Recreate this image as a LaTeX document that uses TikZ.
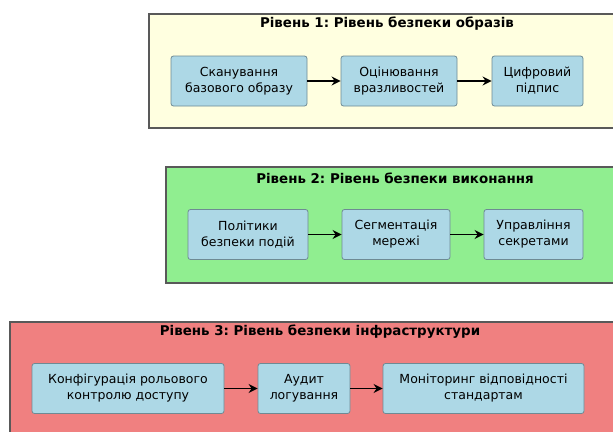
\documentclass[tikz,border=0pt]{standalone}
\usepackage{fontspec}
\setmainfont{DejaVu Sans}
\usetikzlibrary{arrows.meta}
\frenchspacing
\definecolor{imagefill}{HTML}{FFFFE0}
\definecolor{runfill}{HTML}{90EE90}
\definecolor{infrafill}{HTML}{F08080}
\definecolor{stepfill}{HTML}{ADD8E6}
\definecolor{stepline}{HTML}{6E8A94}
\tikzset{
  stepbox/.style={draw=stepline, fill=stepfill, rounded corners=2.5pt, align=center,
    minimum height=50pt, inner sep=0pt, line width=0.8pt,
    font=\fontsize{12.5}{16}\selectfont},
  layer/.style={draw=black!65, line width=1.1pt},
  layertitle/.style={inner sep=0pt, font=\bfseries\fontsize{13.4}{16}\selectfont},
  flow/.style={-{Stealth[length=9pt,width=9pt,inset=3pt]}, line width=1.5pt}
}
\begin{document}
\begin{tikzpicture}[x=1pt,y=-1pt]
        \def\ya{81}
        \def\yb{234.5}
        \def\yc{388.5}
        \useasboundingbox (0,0) rectangle (613,431);
        % layer 1
        \draw[layer,fill=imagefill] (149,14) rectangle (625,128);
        \node[layertitle] (t1) at (387,23.5) {Рівень 1: Рівень безпеки образів};
        \node[stepbox,minimum width=136pt] (scan) at (239,\ya) {Сканування\\базового образу};
        \node[stepbox,minimum width=116pt] (vuln) at (399,\ya) {Оцінювання\\вразливостей};
        \node[stepbox,minimum width=91pt] (sign) at (537.5,\ya) {Цифровий\\підпис};
        \draw[flow] (scan) -- (vuln);
        \draw[flow] (vuln) -- (sign);
        % layer 2
        \draw[layer,fill=runfill] (166,167) rectangle (624,283);
        \node[layertitle] (t2) at (395,178.5) {Рівень 2: Рівень безпеки виконання};
        \node[stepbox,minimum width=120pt] (policy) at (248,\yb) {Політики\\безпеки подій};
        \node[stepbox,minimum width=108pt] (segm) at (396,\yb) {Сегментація\\мережі};
        \node[stepbox,minimum width=99pt] (secret) at (533.5,\yb) {Управління\\секретами};
        \draw[flow] (policy) -- (segm);
        \draw[flow] (segm) -- (secret);
        % layer 3
        \draw[layer,fill=infrafill] (10,322) rectangle (630,445);
        \node[layertitle] (t3) at (320,331.5) {Рівень 3: Рівень безпеки інфраструктури};
        \node[stepbox,minimum width=192pt] (rbac) at (128,\yc) {Конфігурація рольового\\контролю доступу};
        \node[stepbox,minimum width=92pt] (audit) at (304,\yc) {Аудит\\логування};
        \node[stepbox,minimum width=201pt] (monitor) at (483.5,\yc) {Моніторинг відповідності\\стандартам};
        \draw[flow] (rbac) -- (audit);
        \draw[flow] (audit) -- (monitor);
\end{tikzpicture}
\end{document}
